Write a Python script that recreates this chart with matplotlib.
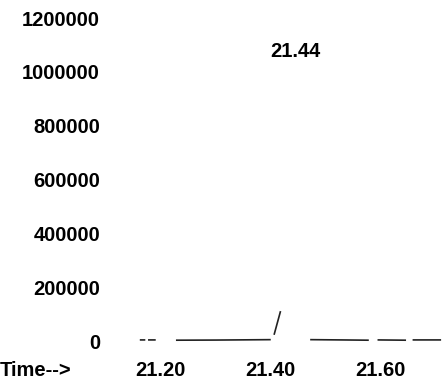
import numpy as np
import matplotlib.pyplot as plt

# abundance trace (scanned, faded: gaps shown as NaN)
time = [21.163, 21.170, np.nan, 21.178, 21.189, np.nan, 21.229, 21.300, 21.399, np.nan,
        21.407, 21.418, np.nan, 21.474, 21.530, 21.578, np.nan, 21.597, 21.646, np.nan,
        21.661, 21.710]
abundance = [4000, 4000, np.nan, 4000, 4000, np.nan, 3000, 3500, 5000, np.nan,
             26000, 108000, np.nan, 5000, 4000, 3000, np.nan, 4000, 3000, np.nan,
             4000, 4000]

peak_time = 21.44
peak_label = "21.44"
yticks = [0, 200000, 400000, 600000, 800000, 1000000, 1200000]
xticks = [21.20, 21.40, 21.60]

plt.rcParams['font.family'] = ['Liberation Sans', 'DejaVu Sans']
fs = 14.5
fig = plt.figure(figsize=(4.43, 3.81), dpi=100)
ax = fig.add_axes([139/443, 33/381, 304/443, 348/381])

ax.plot(time, abundance, color="#222222", lw=1.2)
ax.set_xlim(21.16, 21.715)
ax.set_ylim(-26000, 1266900)

ax.set_yticks(yticks)
ax.set_yticklabels([str(v) for v in yticks], fontsize=fs, fontweight="bold")
ax.set_xticks(xticks)
ax.set_xticklabels(["%.2f" % v for v in xticks], fontsize=fs, fontweight="bold")
ax.tick_params(axis="y", length=0, pad=28)
ax.tick_params(axis="x", length=0, pad=9)
for s in ax.spines.values():
    s.set_visible(False)

# label sits a little right of the drawn peak
ax.text(peak_time + 0.005, 1075000, peak_label, ha="center", va="center",
        fontsize=fs, fontweight="bold")
fig.text(0.0, 1 - 370/381, "Time-->", ha="left", va="center",
         fontsize=fs, fontweight="bold")

fig.savefig("out.png", dpi=100, facecolor="white")
